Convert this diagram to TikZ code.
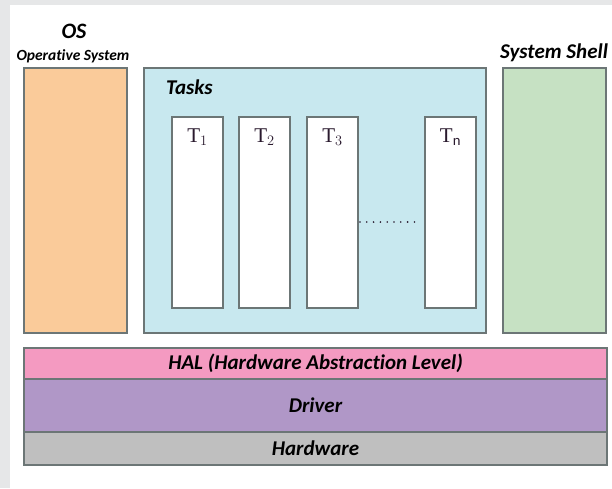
\documentclass[tikz,border=0pt]{standalone}
\usepackage{fontspec}
\setmainfont{Carlito}[Ligatures=NoCommon]
\newfontfamily\serifT{Liberation Serif}
\begin{document}
\begin{tikzpicture}[x=1pt,y=-1pt,
  layer/.style={draw=edgegray,line width=1.4pt,anchor=north west,inner sep=0pt,outer sep=0pt},
  taskbox/.style={layer,fill=white,minimum width=51pt,minimum height=191pt},
  label/.style={text=black,inner sep=0pt},
  big/.style={label,font=\fontsize{21}{21}\selectfont\bfseries\itshape},
  tlabel/.style={font=\serifT\fontsize{21}{21}\selectfont,text=tcol,inner sep=0pt}]
\definecolor{edgegray}{HTML}{6C7676}
\definecolor{bgframe}{HTML}{E6E7E8}
\definecolor{osorange}{HTML}{FACB9A}
\definecolor{taskblue}{HTML}{C8E8EF}
\definecolor{shellgreen}{HTML}{C6E1C3}
\definecolor{halpink}{HTML}{F49AC1}
\definecolor{drvpurple}{HTML}{B097C7}
\definecolor{hwgray}{HTML}{BFBFBF}
\definecolor{tcol}{HTML}{2A1A2E}
% page frame
\useasboundingbox (0,0) rectangle (612,488);
\fill[bgframe] (0,0) rectangle (612,488);
\fill[white] (10,5) rectangle (612,488);
% upper row
\node[layer,fill=osorange,minimum width=103pt,minimum height=265pt] (os) at (24,68) {};
\node[layer,fill=taskblue,minimum width=342pt,minimum height=265pt] (tasks) at (144,68) {};
\node[layer,fill=shellgreen,minimum width=103pt,minimum height=265pt] (shell) at (503,68) {};
% titles
\node[big,font=\fontsize{22}{22}\selectfont\bfseries\itshape] (ostitle) at (74,31) {OS};
\node[label,font=\fontsize{15.5}{15.5}\selectfont\bfseries\itshape] (ossub) at (73,56) {Operative System};
\node[big] (shelltitle) at (554,53) {System Shell};
\node[big,anchor=west] (taskstitle) at (166,87) {Tasks};
% task columns
\node[taskbox] (t1) at (172,117) {};
\node[taskbox] (t2) at (239,117) {};
\node[taskbox] (t3) at (307,117) {};
\node[taskbox] (tn) at (425,117) {};
\node[tlabel] at ([yshift=-20pt]t1.north) {T$_1$};
\node[tlabel] at ([yshift=-20pt]t2.north) {T$_2$};
\node[tlabel] at ([yshift=-20pt]t3.north) {T$_3$};
\node[tlabel] at ([yshift=-20pt]tn.north) {T$_\mathrm{n}$};
\coordinate (dotL) at (360,222);
\coordinate (dotR) at (420,222);
\draw[tcol,line width=1.8pt,line cap=round,dash pattern=on 0pt off 6.8pt] (dotL) -- (dotR);
% lower layers
\node[layer,fill=halpink,minimum width=583pt,minimum height=31pt] (hal) at (24,348) {};
\node[layer,fill=drvpurple,minimum width=583pt,minimum height=53pt] (drv) at (24,379) {};
\node[layer,fill=hwgray,minimum width=583pt,minimum height=33pt] (hw) at (24,432) {};
\node[big] at (hal.center) {HAL (Hardware Abstraction Level)};
\node[big] at (drv.center) {Driver};
\node[big] at (hw.center) {Hardware};
\end{tikzpicture}
\end{document}
